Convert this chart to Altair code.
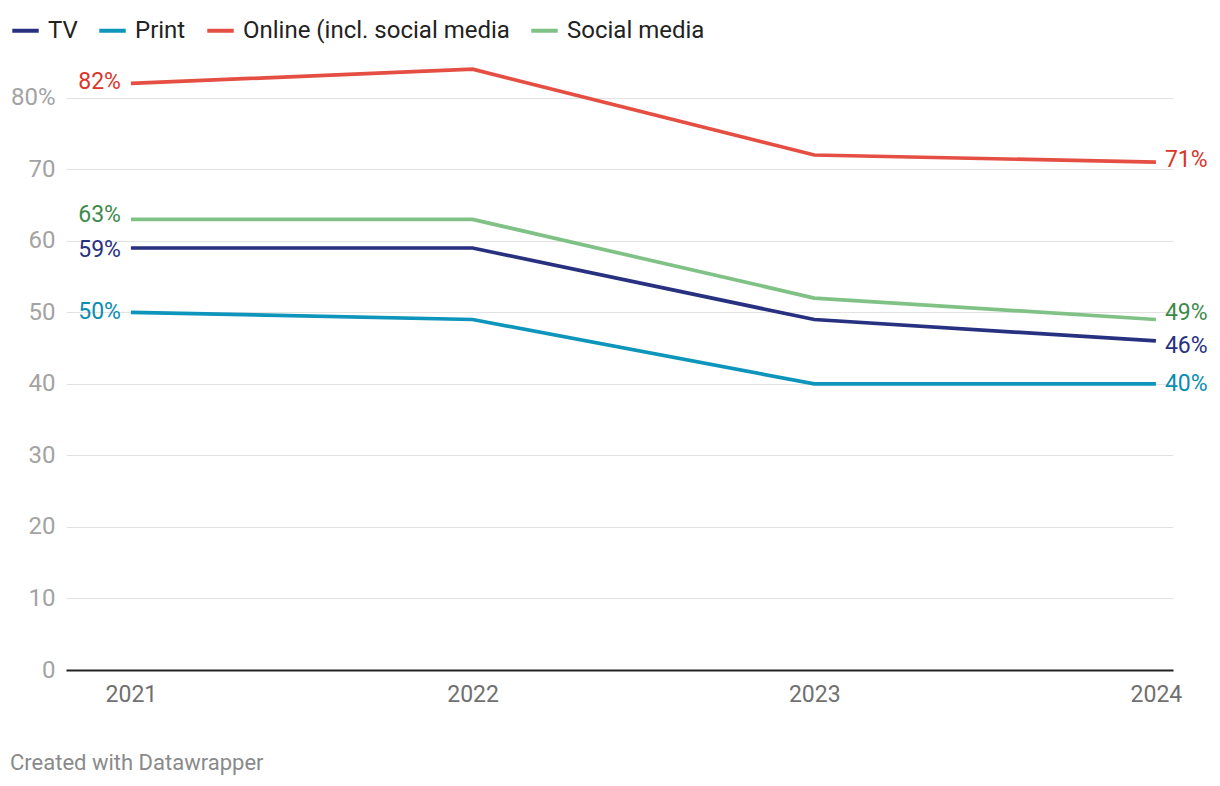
import altair as alt
import pandas as pd

years = [2021, 2022, 2023, 2024]
series = ["TV", "Print", "Online (incl. social media", "Social media"]
tv = [59, 59, 49, 46]
print_ = [50, 49, 40, 40]
online = [82, 84, 72, 71]
social = [63, 63, 52, 49]
line_colors = ["#283180", "#0e95bb", "#e54e43", "#80c286"]
label_colors = ["#283180", "#0a8db2", "#d9362c", "#3d8b4b"]
y_ticks = [0, 10, 20, 30, 40, 50, 60, 70, 80]

# label nudges (pixels) to avoid collisions, per series: (first, last)
nudges = {"TV": (2, 5), "Print": (0, 0), "Online (incl. social media": (-1, -2), "Social media": (-4, -7)}

values = [tv, print_, online, social]
rows = []
for s, vals, lc in zip(series, values, label_colors):
    for i, (yr, v) in enumerate(zip(years, vals)):
        rows.append({"year": yr, "value": v, "series": s, "lcolor": lc,
                     "label": f"{v}%", "pos": "first" if i == 0 else ("last" if i == len(vals) - 1 else "mid")})
df = pd.DataFrame(rows)

FONT = "Roboto"
x = alt.X("year:Q", scale=alt.Scale(domain=[2020.81, 2024.05], nice=False, zero=False),
          axis=alt.Axis(values=years, format="d", grid=False, ticks=False,
                        domain=True, domainColor="#222222", domainWidth=2,
                        labelFontSize=23, labelColor="#707070", labelFont=FONT,
                        labelPadding=13, title=None))
y = alt.Y("value:Q", scale=alt.Scale(domain=[0, 85], nice=False),
          axis=alt.Axis(values=y_ticks, grid=True, gridColor="#e2e2e2", gridWidth=1,
                        ticks=False, domain=False, labelFontSize=24, labelColor="#a3a3a3",
                        labelFont=FONT, labelPadding=11,
                        labelExpr="datum.value == 80 ? '80%' : datum.label", title=None))

color = alt.Color("series:N", scale=alt.Scale(domain=series, range=line_colors),
                  legend=alt.Legend(orient="none", legendX=-56, legendY=-47, direction="horizontal",
                                    title=None, symbolType="stroke", symbolSize=700,
                                    symbolStrokeWidth=4, labelFontSize=24, labelFont=FONT,
                                    labelColor="#222222", labelOffset=7, columnPadding=13,
                                    labelLimit=500))

lines = alt.Chart(df).mark_line(strokeWidth=3.7).encode(x=x, y=y, color=color, detail="series:N")

layers = [lines]
for s in series:
    d_first, d_last = nudges[s]
    layers.append(alt.Chart(df).transform_filter(
        (alt.datum.pos == "first") & (alt.datum.series == s)).mark_text(
        align="right", baseline="middle", dx=-10, dy=d_first, fontSize=23, font=FONT).encode(
        x="year:Q", y="value:Q", text="label:N", color=alt.Color("lcolor:N", scale=None)))
    layers.append(alt.Chart(df).transform_filter(
        (alt.datum.pos == "last") & (alt.datum.series == s)).mark_text(
        align="left", baseline="middle", dx=9, dy=d_last, fontSize=23, font=FONT).encode(
        x="year:Q", y="value:Q", text="label:N", color=alt.Color("lcolor:N", scale=None)))

footer = alt.Chart(pd.DataFrame({"t": ["Created with Datawrapper"]})).mark_text(
    align="left", baseline="middle", fontSize=22, font=FONT, color="#8a8a8a").encode(
    x=alt.value(-56), y=alt.value(701), text="t:N")
layers.append(footer)

chart = alt.layer(*layers).properties(
    width=1107, height=608,
    background="white",
    autosize=alt.AutoSizeParams(type="none"),
    padding={"left": 58, "top": 54, "right": 39, "bottom": 108},
).configure_view(stroke=None)

chart.save("out.html", embed_options={"renderer": "svg", "actions": False})
